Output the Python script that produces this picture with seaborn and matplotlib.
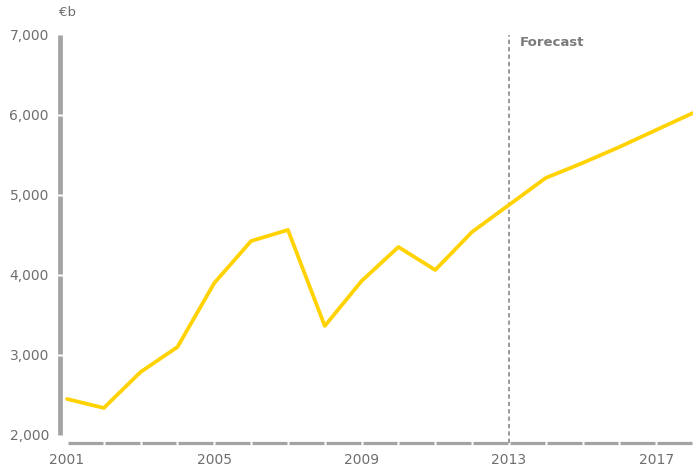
import matplotlib
matplotlib.use("Agg")
import matplotlib.pyplot as plt
import seaborn as sns
import pandas as pd

# Annual values, € billions (2013 onwards forecast)
years = [2001, 2002, 2003, 2004, 2005, 2006, 2007, 2008, 2009,
         2010, 2011, 2012, 2013, 2014, 2015, 2016, 2017, 2018]
values = [2450, 2338, 2788, 3100, 3900, 4425, 4563, 3363, 3925,
          4350, 4063, 4538, 4875, 5213, 5400, 5600, 5813, 6025]
y_ticks = [2000, 3000, 4000, 5000, 6000, 7000]
y_tick_labels = ["2,000", "3,000", "4,000", "5,000", "6,000", "7,000"]
x_ticks = [2001, 2005, 2009, 2013, 2017]
x_tick_labels = ["2001", "2005", "2009", "2013", "2017"]
forecast_start = 2013

sns.set_style("white")
plt.rcParams["font.family"] = ["DejaVu Sans"]

W, H = 693, 470
fig = plt.figure(figsize=(W / 100, H / 100), dpi=100)
left_px, right_px, top_px, bottom_px = 58, 693, 30, 447
ax = fig.add_axes([left_px / W, 1 - bottom_px / H,
                   (right_px - left_px) / W, (bottom_px - top_px) / H])

px_per_year = (693 - 67) / 17
units_per_px = 12.5
ax.set_xlim(2001 - (67 - left_px) / px_per_year, 2018)
ax.set_ylim(2000 - (bottom_px - 435) * units_per_px, 7000 + (35 - top_px) * units_per_px)

grey = "#a3a3a3"
text_grey = "#6e6e6e"
yellow = "#FFD200"

df = pd.DataFrame({"year": years, "value": values})

# forecast divider
axis_y = 2000 - 8 * units_per_px
ax.plot([forecast_start, forecast_start], [axis_y, 7000], color="#9a9a9a",
        lw=1.4, linestyle=(0, (2.2, 1.6)), zorder=1)

sns.lineplot(data=df, x="year", y="value", ax=ax, color=yellow, lw=2.7,
             zorder=3, clip_on=False)

# segmented vertical value bar with small breaks at each tick
bar_x = 2001 - (67 - 60) / px_per_year
gap_y = 1.0 * units_per_px
for lo, hi in zip(y_ticks[:-1], y_ticks[1:]):
    lo_g = lo if lo == y_ticks[0] else lo + gap_y
    hi_g = hi if hi == y_ticks[-1] else hi - gap_y
    ax.plot([bar_x, bar_x], [lo_g, hi_g], color=grey, lw=3.4,
            solid_capstyle="butt", clip_on=False, zorder=2)

# segmented horizontal axis with breaks at each year
gap_x = 1.0 / px_per_year
for a, b in zip(years[:-1], years[1:]):
    ax.plot([a + gap_x, b - gap_x], [axis_y, axis_y], color=grey, lw=2.3,
            solid_capstyle="butt", clip_on=False, zorder=2)

for s in ax.spines.values():
    s.set_visible(False)

ax.set_yticks(y_ticks)
ax.set_yticklabels(y_tick_labels)
ax.set_xticks(x_ticks)
ax.set_xticklabels(x_tick_labels)
ax.tick_params(axis="both", length=0, labelsize=10, labelcolor=text_grey)
ax.tick_params(axis="y", pad=6.5)
ax.tick_params(axis="x", pad=4)
ax.set_xlabel("")
ax.set_ylabel("")
ax.grid(False)

ax.text(forecast_start + 11 / px_per_year, 7000 - 7 * units_per_px, "Forecast",
        color="#7a7a7a", fontsize=9.5, fontweight="bold", va="center", ha="left")
fig.text(59 / W, 1 - 13 / H, "€b", color=text_grey, fontsize=9.5,
         va="center", ha="left")

fig.savefig("out.png", dpi=100, facecolor="white")
